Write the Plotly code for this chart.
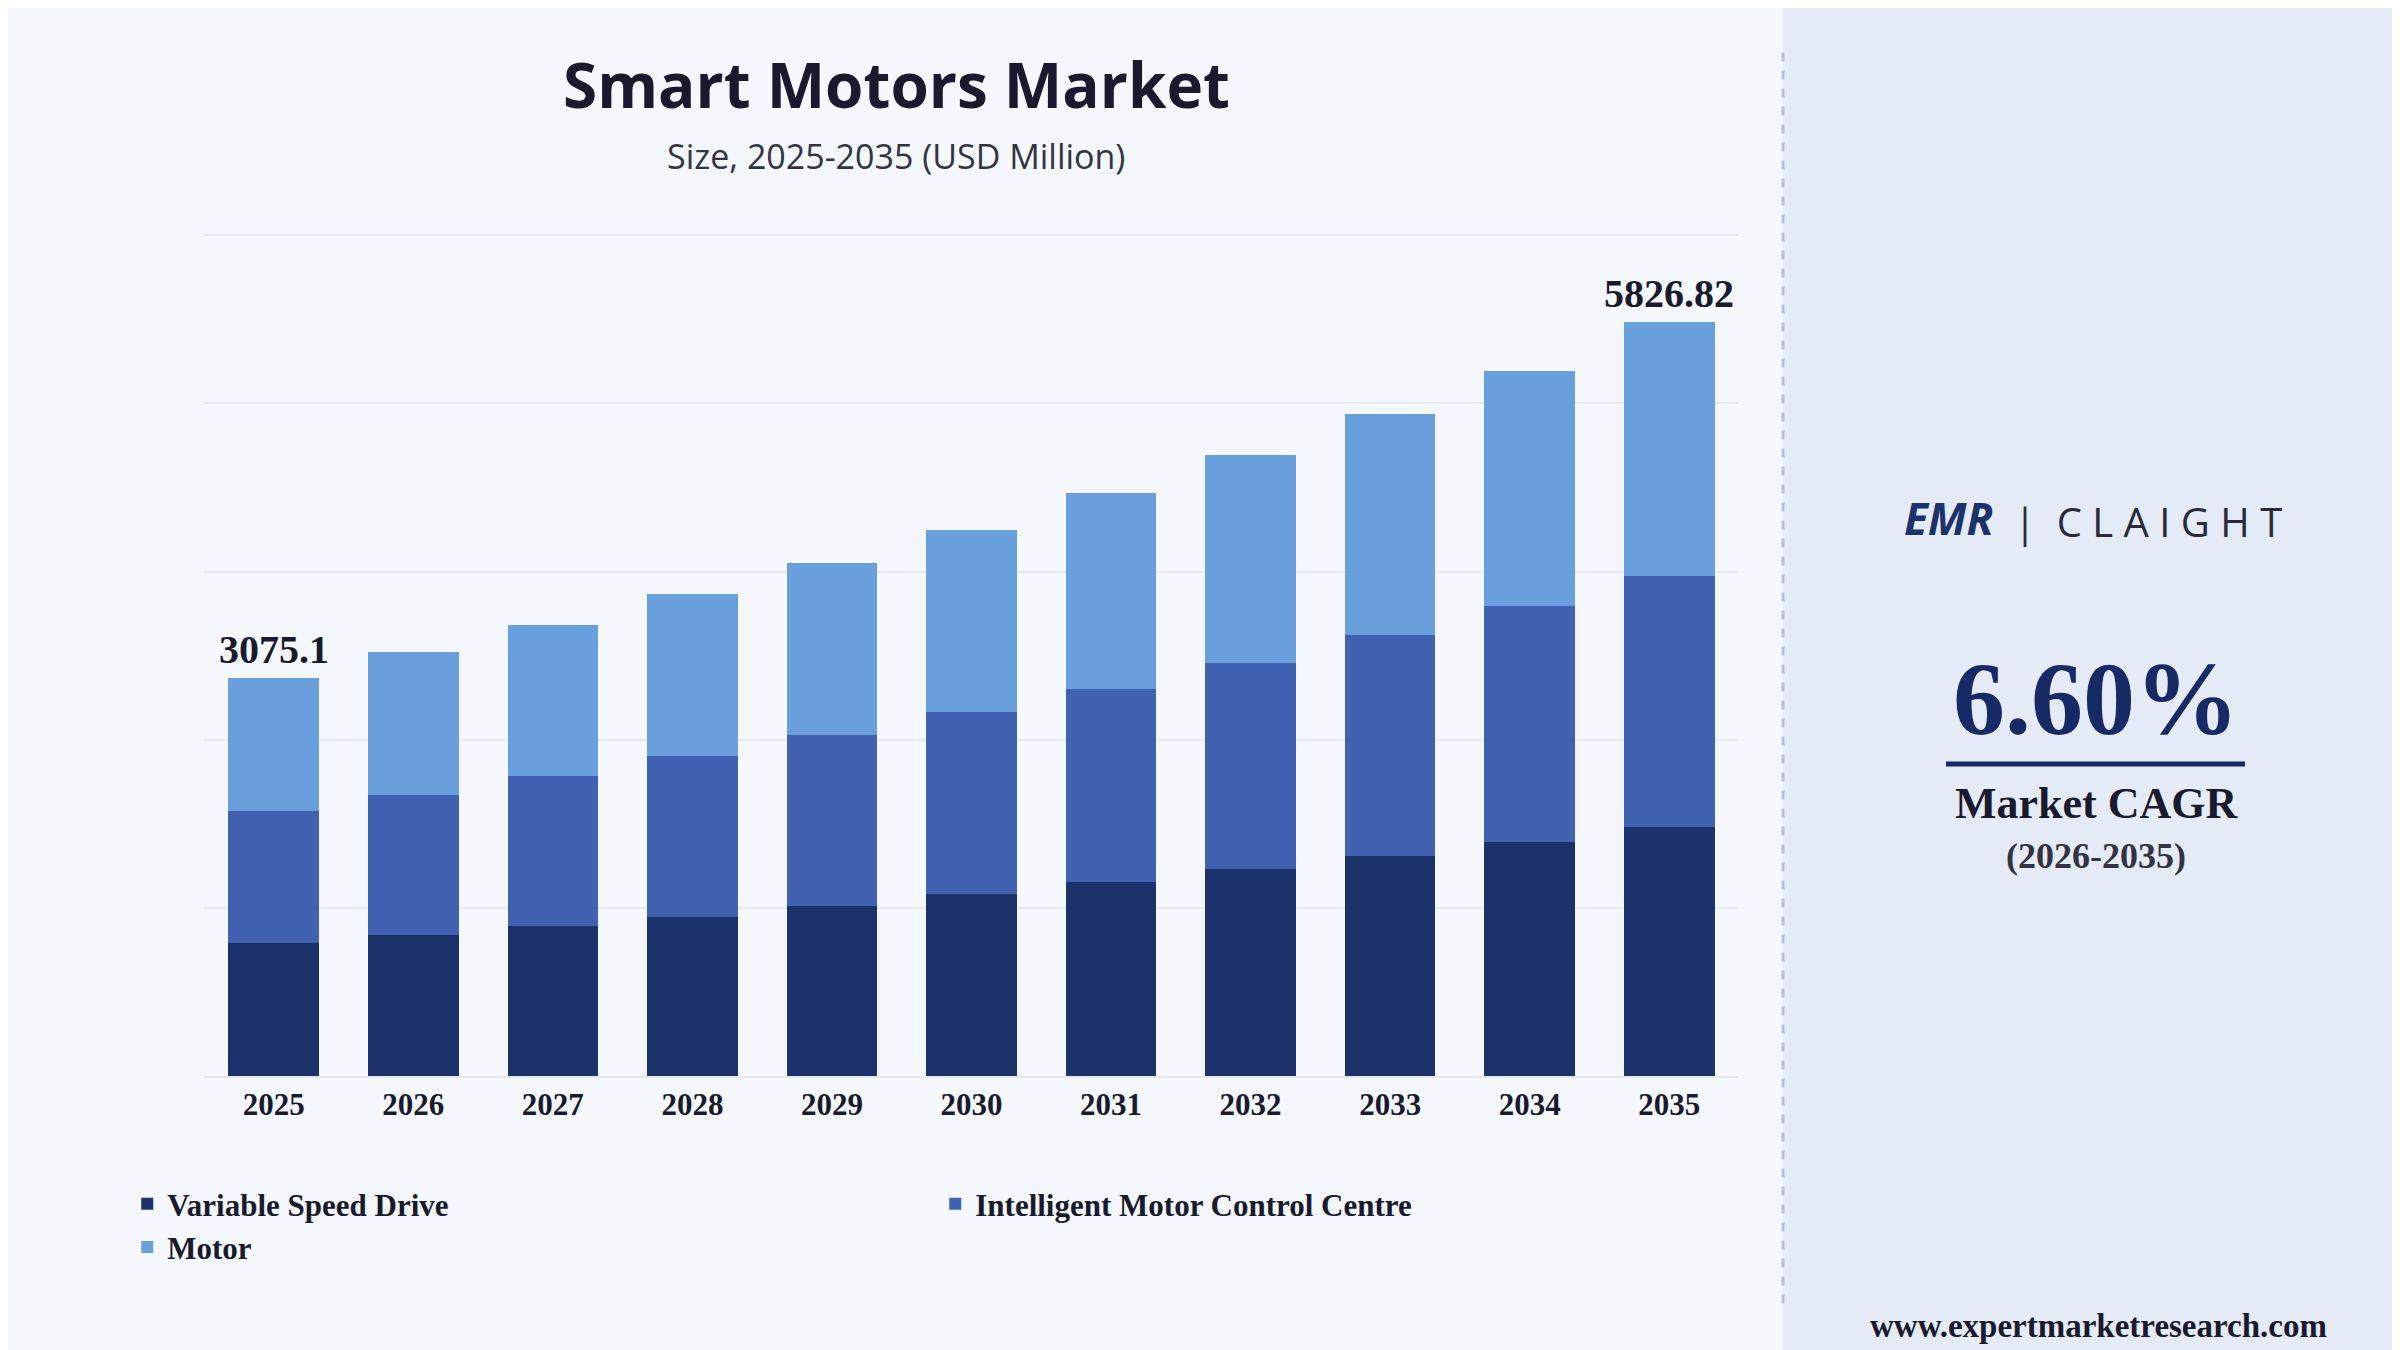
import plotly.graph_objects as go

years = [2025, 2026, 2027, 2028, 2029, 2030, 2031, 2032, 2033, 2034, 2035]
vsd = [1029,1088,1159,1230,1313,1408,1502,1597,1703,1810,1928]
imcc = [1017,1088,1159,1242,1325,1408,1491,1597,1703,1822,1940]
motor = [1029.1,1101,1172,1254,1325,1407,1514,1609,1716,1822,1958.82]
totals = [a+b+c for a,b,c in zip(vsd,imcc,motor)]
series = [("Variable Speed Drive", vsd, "#1b326b"),
          ("Intelligent Motor Control Centre", imcc, "#4062b0"),
          ("Motor", motor, "#6a9fdd")]

fig = go.Figure()
for name, vals, col in series:
    fig.add_bar(x=years, y=vals, name=name, marker_color=col, marker_line_width=0, width=0.65)

serif = "Liberation Serif"
fig.update_layout(
    width=2400, height=1350, barmode="stack",
    paper_bgcolor="#f4f7fb", plot_bgcolor="rgba(0,0,0,0)",
    margin=dict(l=196, r=669, t=225, b=282),
    showlegend=True,
    legend=dict(orientation="h", x=-0.05, y=-0.12, xanchor="left", yanchor="top",
                entrywidth=763, entrywidthmode="pixels", traceorder="normal",
                font=dict(family=serif, size=31, color="#1a1a2e", weight="bold")),
    xaxis=dict(type="linear", range=[2024.5, 2035.5], tickmode="array", tickvals=years,
               ticktext=[str(y) for y in years],
               tickfont=dict(family=serif, size=31, color="#1a1a2e", weight="bold"),
               showline=True, linecolor="#e3e6ec", linewidth=2, ticks="", showgrid=False,
               zeroline=False),
    yaxis=dict(range=[0, 6518], dtick=1300, showticklabels=False, gridcolor="#e6e9ef",
               gridwidth=2, zeroline=False),
    font=dict(family=serif),
)
fig.add_shape(type="rect", xref="paper", yref="paper", x0=(1775-196)/1535, x1=(2400-196)/1535,
              y0=-282/843, y1=1+225/843, fillcolor="#e4ebf7", line_width=0, layer="below")
fig.add_shape(type="line", xref="paper", yref="paper", x0=(1775-196)/1535, x1=(1775-196)/1535,
              y0=-0.27, y1=1.22, line=dict(color="#b4c2d6", width=3, dash="dash"))
fig.add_annotation(x=years[0], y=totals[0], text="<b>3075.1</b>", showarrow=False, yanchor="bottom",
                   yshift=4, font=dict(family=serif, size=40, color="#1a1a2e"))
fig.add_annotation(x=years[-1], y=totals[-1], text="<b>5826.82</b>", showarrow=False, yanchor="bottom",
                   yshift=4, font=dict(family=serif, size=40, color="#1a1a2e"))

def ann(x, y, text, size, color, family, **kw):
    fig.add_annotation(xref="paper", yref="paper", x=(x-196)/1535, y=(1068-y)/843, text=text,
                       xanchor="center", yanchor="middle",
                       showarrow=False, font=dict(size=size, color=color, family=family), **kw)

ann(888, 76, "<b>Smart Motors Market</b>", 62, "#1a1a2e", "Open Sans")
ann(888, 148, "Size, 2025-2035 (USD Million)", 34, "#333344", "Open Sans")
ann(1940, 510, "<i><b>EMR</b></i>", 44, "#1b326b", "Open Sans")
ann(2140, 513, "|  C L A I G H T", 40, "#2a2a3a", "Open Sans")
ann(2088, 690, "<b>6.60%</b>", 104, "#162a66", serif)
fig.add_shape(type="line", xref="paper", yref="paper", x0=(1938-196)/1535, x1=(2237-196)/1535,
              y0=(1068-756)/843, y1=(1068-756)/843, line=dict(color="#162a66", width=5))
ann(2088, 795, "<b>Market CAGR</b>", 44, "#1a1a2e", serif)
ann(2088, 848, "<b>(2026-2035)</b>", 36, "#333344", serif)
ann(2090, 1318, "<b>www.expertmarketresearch.com</b>", 33, "#1a1a2e", serif)

fig.write_html("out.html")
